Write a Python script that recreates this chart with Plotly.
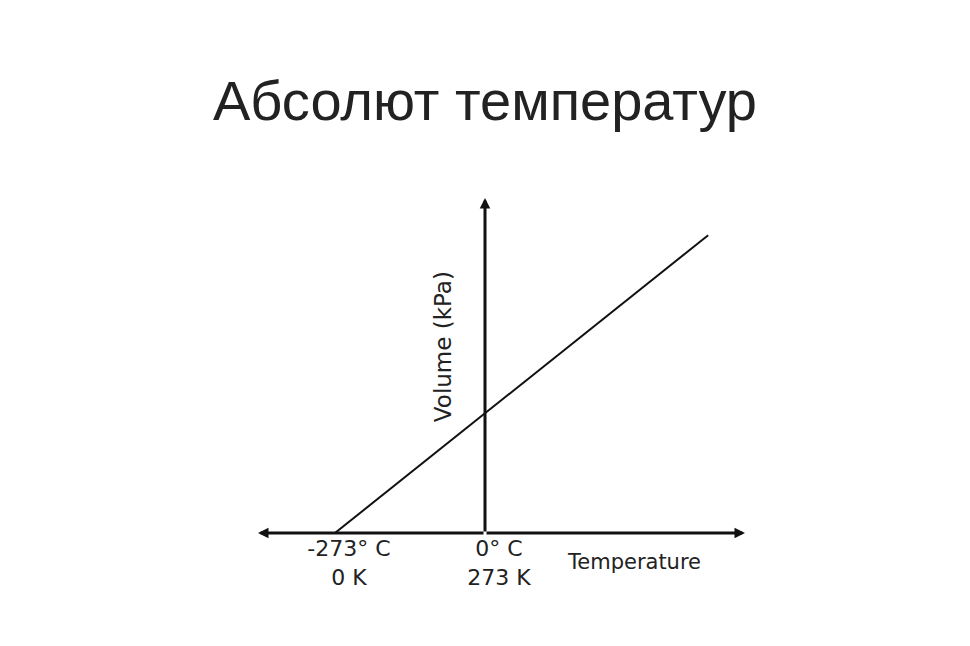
import plotly.graph_objects as go

# Data
temperature_c = [-273, 406]
volume = [0.0, 2.48]
tick_values = [-273, 0]
tick_labels = ["-273° C<br>0 K", "0° C<br>273 K"]
x_range = [-413, 473]
y_range = [0, 2.79]
title_text = "Абсолют температур"
x_label = "Temperature"
y_label = "Volume (kPa)"

fig = go.Figure()
fig.add_trace(go.Scatter(
    x=temperature_c, y=volume, mode="lines",
    line=dict(color="#111111", width=2), hoverinfo="skip", showlegend=False,
))

axis_color = "#111111"
arrows = [
    dict(x=x_range[1], y=0, ax=0, ay=0),
    dict(x=x_range[0], y=0, ax=0, ay=0),
    dict(x=0, y=y_range[1], ax=0, ay=0),
]
for a in arrows:
    fig.add_annotation(
        x=a["x"], y=a["y"], ax=a["ax"], ay=a["ay"],
        xref="x", yref="y", axref="x", ayref="y",
        showarrow=True, arrowhead=2, arrowsize=0.7, arrowwidth=3,
        arrowcolor=axis_color, text="",
    )

fig.add_annotation(
    x=0.772, y=-0.087, xref="paper", yref="paper", text=x_label, showarrow=False,
    xanchor="center", yanchor="middle",
    font=dict(family="DejaVu Sans", size=21, color="#222222"),
)
fig.add_annotation(
    x=0.38, y=0.555, xref="paper", yref="paper", text=y_label, showarrow=False,
    textangle=-90, xanchor="center", yanchor="middle",
    font=dict(family="DejaVu Sans", size=23, color="#222222"),
)

fig.update_layout(
    width=970, height=646,
    margin=dict(l=250, r=233, t=190, b=121),
    paper_bgcolor="white", plot_bgcolor="white",
    title=dict(
        text=title_text, x=(485 - 8) / 970, xanchor="center", xref="container",
        y=1 - 92 / 646, yref="container", yanchor="middle",
        font=dict(family="Liberation Sans", size=56, color="#222222"),
    ),
    xaxis=dict(
        range=x_range, showgrid=False, zeroline=False, showline=False,
        tickvals=tick_values, ticktext=tick_labels, ticks="",
        ticklabelshift=14,
        tickfont=dict(family="DejaVu Sans", size=22, color="#222222"),
        fixedrange=True,
    ),
    yaxis=dict(
        range=y_range, showgrid=False, zeroline=False, showline=False,
        showticklabels=False, ticks="", fixedrange=True,
    ),
)

fig.write_html("out.html")
